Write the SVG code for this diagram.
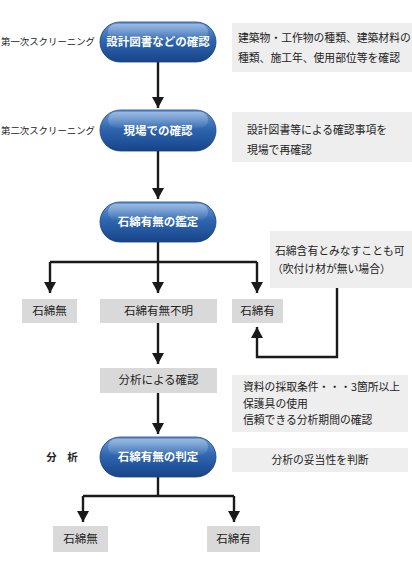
<svg xmlns="http://www.w3.org/2000/svg" width="412" height="563" viewBox="0 0 412 563">
<defs>
<linearGradient id="pg" x1="0" y1="0" x2="0" y2="1">
<stop offset="0" stop-color="#6b9bd6"/>
<stop offset="0.45" stop-color="#2f67b0"/>
<stop offset="1" stop-color="#17448a"/>
</linearGradient>
<linearGradient id="hl" x1="0" y1="0" x2="0" y2="1">
<stop offset="0" stop-color="#ffffff" stop-opacity="0.35"/>
<stop offset="1" stop-color="#ffffff" stop-opacity="0.05"/>
</linearGradient>
<marker id="ah" viewBox="0 0 11 12" refX="11" refY="6" markerWidth="11" markerHeight="12" markerUnits="userSpaceOnUse" orient="auto">
<path d="M0,0 L11,6 L0,12 Z" fill="#1a1a1a"/>
</marker>
<style>
.pill{fill:url(#pg);stroke:#1a3f7a;stroke-width:0.8}
.hl{fill:url(#hl)}
.pt{font-family:"Noto Sans CJK JP","Noto Sans CJK SC",sans-serif;font-size:11.5px;font-weight:bold;fill:#ffffff;text-anchor:middle}
.lbl{font-family:"Noto Sans CJK JP","Noto Sans CJK SC",sans-serif;font-size:9.5px;fill:#222}
.note{fill:#eeeeee}
.nt{font-family:"Noto Sans CJK JP","Noto Sans CJK SC",sans-serif;font-size:10.8px;fill:#222}
.box{fill:#d9d9d9}
.bt{font-family:"Noto Sans CJK JP","Noto Sans CJK SC",sans-serif;font-size:11.5px;fill:#222;text-anchor:middle}
.c{fill:none;stroke:#1a1a1a;stroke-width:2.4}
</style>
</defs>

<g id="connectors">
<path class="c" d="M158,62 V108" marker-end="url(#ah)"/>
<path class="c" d="M158,151 V199" marker-end="url(#ah)"/>
<path class="c" d="M158,242 V262"/>
<path class="c" d="M50,262 H257"/>
<path class="c" d="M50,262 V293" marker-end="url(#ah)"/>
<path class="c" d="M158,262 V293" marker-end="url(#ah)"/>
<path class="c" d="M257,262 V293" marker-end="url(#ah)"/>
<path class="c" d="M337,288 V357 H257 V327" marker-end="url(#ah)"/>
<path class="c" d="M158,323 V364" marker-end="url(#ah)"/>
<path class="c" d="M158,393 V434" marker-end="url(#ah)"/>
<path class="c" d="M158,477 V496"/>
<path class="c" d="M83,496 H234"/>
<path class="c" d="M83,496 V522" marker-end="url(#ah)"/>
<path class="c" d="M234,496 V522" marker-end="url(#ah)"/>
</g>

<g id="label1"><text class="lbl" x="1" y="45" textLength="94" lengthAdjust="spacingAndGlyphs">第一次スクリーニング</text></g>
<g id="label2"><text class="lbl" x="1" y="134" textLength="94" lengthAdjust="spacingAndGlyphs">第二次スクリーニング</text></g>
<g id="label3"><text x="62" y="461" style="font-family:'Noto Sans CJK JP',sans-serif;font-size:10.5px;font-weight:bold;fill:#222;text-anchor:middle">分　析</text></g>

<g id="pill1">
<rect class="pill" x="100" y="22" width="116" height="40" rx="20"/>
<rect class="hl" x="108" y="24" width="100" height="16" rx="8"/>
<text class="pt" x="158" y="46">設計図書などの確認</text>
</g>
<g id="note1">
<rect class="note" x="232" y="23" width="180" height="49"/>
<text class="nt" x="238" y="42">建築物・工作物の種類、建築材料の</text>
<text class="nt" x="238" y="62">種類、施工年、使用部位等を確認</text>
</g>

<g id="pill2">
<rect class="pill" x="100" y="110" width="116" height="41" rx="20.5"/>
<rect class="hl" x="108" y="112" width="100" height="16" rx="8"/>
<text class="pt" x="158" y="135">現場での確認</text>
</g>
<g id="note2">
<rect class="note" x="232" y="112" width="180" height="50"/>
<text class="nt" x="247" y="134">設計図書等による確認事項を</text>
<text class="nt" x="247" y="154">現場で再確認</text>
</g>

<g id="pill3">
<rect class="pill" x="100" y="202" width="116" height="40" rx="20"/>
<rect class="hl" x="108" y="204" width="100" height="16" rx="8"/>
<text class="pt" x="158" y="226">石綿有無の鑑定</text>
</g>

<g id="note3">
<rect class="note" x="270" y="231" width="142" height="57"/>
<text class="nt" x="275" y="255">石綿含有とみなすことも可</text>
<text class="nt" x="272" y="273">（吹付け材が無い場合）</text>
</g>

<g id="box-none1"><rect class="box" x="22" y="299" width="55" height="24"/><text class="bt" x="49.5" y="315">石綿無</text></g>
<g id="box-unknown"><rect class="box" x="100" y="299" width="117" height="24"/><text class="bt" x="158.5" y="315">石綿有無不明</text></g>
<g id="box-yes1"><rect class="box" x="232" y="299" width="51" height="24"/><text class="bt" x="257.5" y="315">石綿有</text></g>

<g id="box-analysis"><rect class="box" x="100" y="368" width="117" height="25"/><text class="bt" x="158.5" y="384">分析による確認</text></g>
<g id="note4">
<rect class="note" x="232" y="375" width="176" height="57"/>
<text class="nt" x="243" y="391">資料の採取条件・・・3箇所以上</text>
<text class="nt" x="243" y="408">保護具の使用</text>
<text class="nt" x="243" y="424">信頼できる分析期間の確認</text>
</g>

<g id="pill4">
<rect class="pill" x="100" y="437" width="116" height="40" rx="20"/>
<rect class="hl" x="108" y="439" width="100" height="16" rx="8"/>
<text class="pt" x="158" y="461">石綿有無の判定</text>
</g>
<g id="note5">
<rect class="note" x="232" y="448" width="176" height="24"/>
<text class="nt" x="320" y="464" text-anchor="middle">分析の妥当性を判断</text>
</g>

<g id="box-none2"><rect class="box" x="53" y="526" width="55" height="26"/><text class="bt" x="80.5" y="543">石綿無</text></g>
<g id="box-yes2"><rect class="box" x="207" y="526" width="53" height="26"/><text class="bt" x="233.5" y="543">石綿有</text></g>
</svg>
